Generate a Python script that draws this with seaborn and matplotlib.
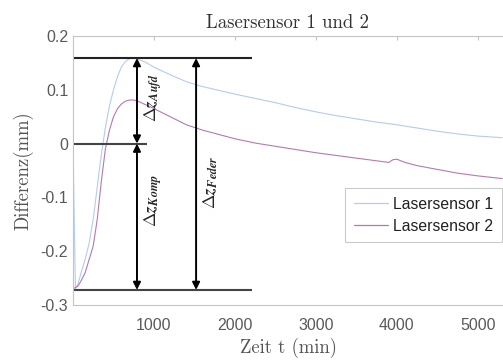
import numpy as np
import pandas as pd
import matplotlib
matplotlib.use("Agg")
import matplotlib.pyplot as plt
import seaborn as sns

# ---- data ----
t1 = [0, 30, 60, 100, 150, 200, 250, 300, 350, 400, 450, 500, 550, 600, 650, 700,
      750, 800, 900, 1000, 1200, 1400, 1600, 1800, 2000, 2250, 2500, 2750, 3000,
      3250, 3500, 3750, 4000, 4250, 4500, 4750, 5000, 5300]
sensor1 = [0.0, -0.27, -0.262, -0.24, -0.215, -0.185, -0.14, -0.08, -0.02, 0.03,
           0.07, 0.10, 0.125, 0.143, 0.153, 0.158, 0.159, 0.157, 0.151, 0.142,
           0.128, 0.115, 0.106, 0.099, 0.092, 0.084, 0.076, 0.067, 0.059, 0.052,
           0.046, 0.040, 0.035, 0.029, 0.023, 0.018, 0.014, 0.011]
t2 = [0, 60, 100, 150, 200, 250, 300, 350, 400, 450, 500, 550, 600, 650, 700, 750,
      800, 900, 1000, 1200, 1400, 1600, 1800, 2000, 2250, 2500, 2750, 3000, 3250,
      3500, 3750, 3900, 3950, 4000, 4050, 4100, 4250, 4500, 4750, 5000, 5300]
sensor2 = [-0.27, -0.265, -0.255, -0.24, -0.215, -0.19, -0.14, -0.07, -0.01, 0.025,
           0.05, 0.065, 0.074, 0.079, 0.081, 0.081, 0.079, 0.072, 0.065, 0.05,
           0.035, 0.025, 0.017, 0.009, 0.001, -0.005, -0.011, -0.017, -0.022,
           -0.027, -0.032, -0.035, -0.030, -0.029, -0.032, -0.035, -0.041, -0.048,
           -0.055, -0.060, -0.065]
labels = ["Lasersensor 1", "Lasersensor 2"]

# annotation levels
z_top = 0.159
z_zero = 0.0
z_bot = -0.272
t_arrow1 = 790
t_arrow2 = 1520
t_line_end = 2210
t_zero_end = 910

df = pd.concat([
    pd.DataFrame({"t": t1, "d": sensor1, "Sensor": labels[0]}),
    pd.DataFrame({"t": t2, "d": sensor2, "Sensor": labels[1]}),
], ignore_index=True)

sns.set_style("white")
plt.rcParams["mathtext.fontset"] = "cm"

fig = plt.figure(figsize=(5.03, 3.61), dpi=100)
ax = fig.add_axes([73/503, 1 - 305/361, 1 - 73/503, (305 - 36)/361])

palette = {labels[0]: "#b3cdec", labels[1]: "#b27bb0"}
sns.lineplot(data=df, x="t", y="d", hue="Sensor", palette=palette,
             linewidth=0.8, ax=ax, sort=False, estimator=None)

ax.set_xlim(0, 5310)
ax.set_ylim(-0.3, 0.2)
ax.set_xticks([1000, 2000, 3000, 4000, 5000])
ax.set_yticks([0.2, 0.1, 0, -0.1, -0.2, -0.3])
ax.set_yticklabels(["0.2", "0.1", "0", "-0.1", "-0.2", "-0.3"])

for s in ["left", "bottom", "top"]:
    ax.spines[s].set_color("#c4c4c4")
    ax.spines[s].set_linewidth(0.8)
ax.spines["right"].set_visible(False)
ax.tick_params(direction="in", length=3, color="#c4c4c4", labelsize=11.5,
               labelcolor="#5a5a5a", top=True, right=False,
               labelfontfamily="Liberation Sans")
ax.tick_params(axis="x", pad=9)

serif = "cmr10"
ax.set_title("Lasersensor 1 und 2", fontfamily=serif, fontsize=13.5, color="#333333", pad=6)
ax.set_xlabel("Zeit t (min)", fontfamily=serif, fontsize=13.5, color="#555555", labelpad=4)
ax.set_ylabel("Differenz(mm)", fontfamily=serif, fontsize=13.5, color="#555555", labelpad=5)

# horizontal reference lines
ax.plot([0, t_line_end], [z_top, z_top], color="#222222", lw=1.5, solid_capstyle="butt")
ax.plot([0, t_line_end], [z_bot, z_bot], color="#444444", lw=1.5, solid_capstyle="butt")
ax.plot([0, t_zero_end], [z_zero, z_zero], color="#444444", lw=1.5, solid_capstyle="butt")

arrowprops = dict(arrowstyle="<|-|>", color="black", lw=1.4, mutation_scale=11,
                  shrinkA=0, shrinkB=0)
ax.annotate("", xy=(t_arrow1, z_top), xytext=(t_arrow1, z_zero), arrowprops=arrowprops)
ax.annotate("", xy=(t_arrow1, z_zero), xytext=(t_arrow1, z_bot), arrowprops=arrowprops)
ax.annotate("", xy=(t_arrow2, z_top), xytext=(t_arrow2, z_bot), arrowprops=arrowprops)

ax.text(1000, 0.085, r"$\Delta\mathbfit{z}_{\mathbfit{Aufd}}$", rotation=90,
        ha="center", va="center", fontsize=12.5)
ax.text(1000, -0.105, r"$\Delta\mathbfit{z}_{\mathbfit{Komp}}$", rotation=90,
        ha="center", va="center", fontsize=12.5)
ax.text(1700, -0.072, r"$\Delta\mathbfit{z}_{\mathbfit{Feder}}$", rotation=90,
        ha="center", va="center", fontsize=12.5)

leg = ax.legend(loc="upper left", bbox_to_anchor=((345 - 73) / 430, 1 - (188 - 36) / 269),
                frameon=True, handlelength=2.2, borderpad=0.55,
                labelspacing=0.45, handletextpad=0.3, borderaxespad=0,
                prop={"family": "Liberation Sans", "size": 11.3})
leg.get_frame().set_edgecolor("#bdbdbd")
leg.get_frame().set_linewidth(0.8)
leg.get_frame().set_boxstyle("square", pad=0)
for txt in leg.get_texts():
    txt.set_color("#222222")
for ln in leg.get_lines():
    ln.set_linewidth(0.9)

fig.savefig("out.png", dpi=100)
